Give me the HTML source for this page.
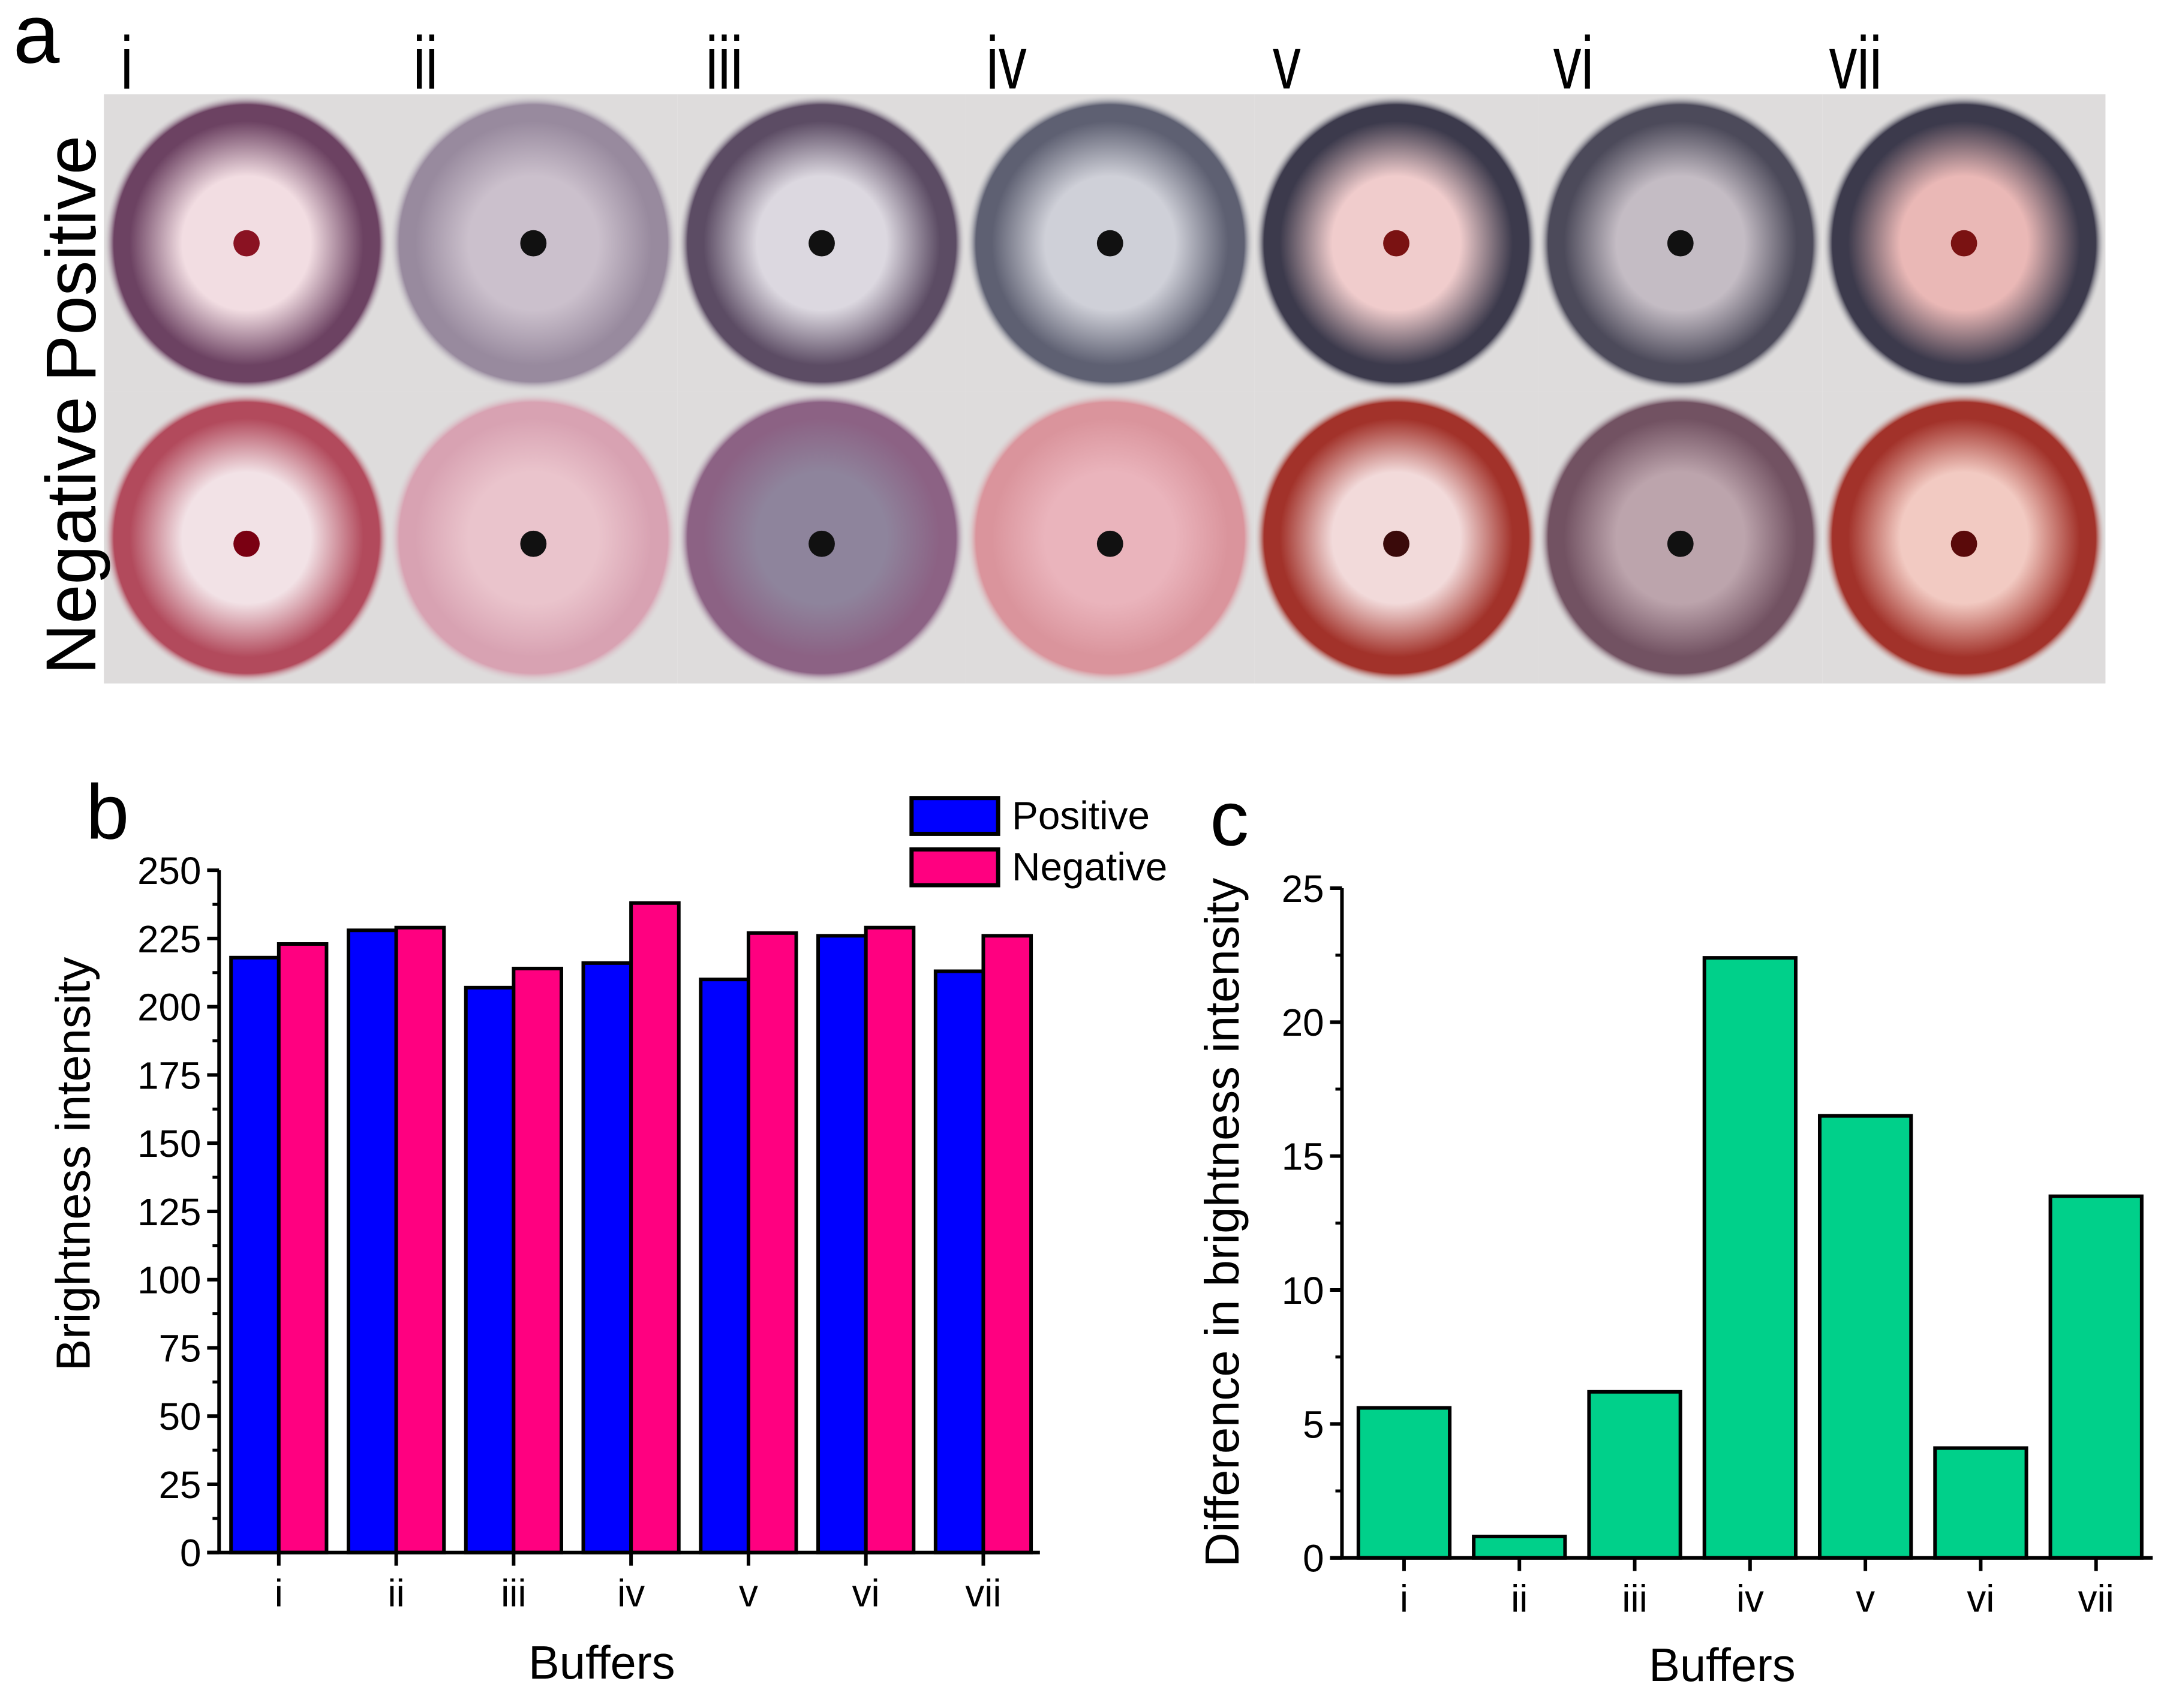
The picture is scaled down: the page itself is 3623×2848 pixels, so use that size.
<!DOCTYPE html>
<html><head><meta charset="utf-8">
<style>
html,body{margin:0;padding:0;background:#fff;}
svg{display:block;font-family:"Liberation Sans",sans-serif;}
</style></head>
<body>
<svg id="fig" width="3623" height="2848" viewBox="0 0 3623 2848" xmlns="http://www.w3.org/2000/svg">
<defs id="defs"></defs>
<g transform="scale(0.9953)">
<g id="panelA"></g>
<g id="chartB"></g>
<g id="chartC"></g>
</g>
</svg>
<script>
const NS="http://www.w3.org/2000/svg";
// ---- chart data ----
const categories=["i","ii","iii","iv","v","vi","vii"];
const positiveValues=[218,228,207,216,210,226,213];
const negativeValues=[223,229,214,238,227,229,226];
const bTicks=[0,25,50,75,100,125,150,175,200,225,250];
const differenceValues=[5.6,0.8,6.2,22.4,16.5,4.1,13.5];
const cTicks=[0,5,10,15,20,25];

function el(tag,attrs,parent,text){const e=document.createElementNS(NS,tag);for(const k in attrs)e.setAttribute(k,attrs[k]);if(text!==undefined)e.textContent=text;if(parent)parent.appendChild(e);return e;}

// ---- panel a ----
const A=document.getElementById('panelA');
const defs=document.getElementById('defs');
const colX=[174,652,1135,1618,2101,2577,3053,3527];
const rowY=[158,657,1145];
const tileStyles=[
 [["#f2dde2","#6c4262","#8a1222"],["#cbc0cc","#988a9e","#111"],["#dcd8e0","#5c4c64","#111"],["#cfd0d8","#5e6072","#111"],["#f0cccc","#3c3a4c","#7a1212"],["#c4bcc4","#4c4a5a","#111"],["#eab8b6","#3c3a4c","#7a1212"]],
 [["#f2e2e6","#b24a5c","#7a0012"],["#eac4cc","#d8a2b2","#111"],["#8e849c","#8c6284","#111"],["#eab4bc","#da949c","#111"],["#f2dada","#a2322a","#3a0a0a"],["#bca4ac","#725262","#111"],["#f2cac2","#a2322a","#5a0a0a"]]
];
const labelsA=["i","ii","iii","iv","v","vi","vii"];
for(let r=0;r<2;r++){for(let c=0;c<7;c++){
  const s=tileStyles[r][c];const id='g'+r+'_'+c;
  const g=el('radialGradient',{id:id,cx:'50%',cy:'50%',r:'50%'},defs);
  el('stop',{offset:'0',"stop-color":s[0]},g);
  el('stop',{offset:'0.45',"stop-color":s[0]},g);
  el('stop',{offset:'0.82',"stop-color":s[1]},g);
  el('stop',{offset:'0.93',"stop-color":s[1]},g);
  el('stop',{offset:'1',"stop-color":"#dcdcdc","stop-opacity":"0"},g);
  const x=colX[c],w=colX[c+1]-colX[c],y=rowY[r],h=rowY[r+1]-rowY[r];
  const t=el('g',{},A);
  
  
  el('rect',{x:x,y:y,width:w,height:h,fill:'#dedcdc'},t);
  el('ellipse',{cx:x+w/2,cy:y+h/2,rx:w*0.5,ry:h*0.5,fill:'url(#'+id+')'},t);
  el('circle',{cx:x+w/2,cy:y+h/2+(r?10:0),r:22,fill:s[2]},t);
}}
el('text',{x:22,y:105,"font-size":140,fill:'#000'},A,'a');
const numX=[202,692,1182,1652,2132,2602,3064];
labelsA.forEach((l,i)=>{const t=el('text',{x:0,y:0,"font-size":125,fill:'#000',transform:`translate(${numX[i]},148) scale(0.75,1)`},A,l);});
const tp=el('text',{transform:'translate(160,640) rotate(-90)',"font-size":118,fill:'#000'},A,'Positive');
const tn=el('text',{transform:'translate(160,1130) rotate(-90)',"font-size":118,fill:'#000'},A,'Negative');

// ---- chart b ----
const B=document.getElementById('chartB');
const bx0=367,bx1=1742,by0=2601,by1=1458,bMax=250;
const bY=v=>by0-(v/bMax)*(by0-by1);
const bStep=196.7,bC0=467;
const bX=i=>bC0+i*bStep;
const bw=80;
categories.forEach((c,i)=>{
  const p=el('rect',{x:bX(i)-bw,y:bY(positiveValues[i]),width:bw,height:by0-bY(positiveValues[i]),fill:'#0000ff',stroke:'#000',"stroke-width":6},B);
  
  
  const n=el('rect',{x:bX(i),y:bY(negativeValues[i]),width:bw,height:by0-bY(negativeValues[i]),fill:'#ff0080',stroke:'#000',"stroke-width":6},B);
  
  
  el('line',{x1:bX(i),x2:bX(i),y1:by0,y2:by0+22,stroke:'#000',"stroke-width":6},B);
  const t=el('text',{x:bX(i),y:by0+90,"font-size":64,"text-anchor":"middle",fill:'#000'},B,c);
  
  
});
el('line',{x1:bx0,x2:bx0,y1:by0,y2:by1,stroke:'#000',"stroke-width":6},B);
el('line',{x1:bx0-20,x2:bx1,y1:by0,y2:by0,stroke:'#000',"stroke-width":6},B);
bTicks.forEach(v=>{
  el('line',{x1:bx0-20,x2:bx0,y1:bY(v),y2:bY(v),stroke:'#000',"stroke-width":6},B);
  if(v<bMax)el('line',{x1:bx0-11,x2:bx0,y1:bY(v+12.5),y2:bY(v+12.5),stroke:'#000',"stroke-width":5},B);
  const t=el('text',{x:bx0-30,y:bY(v)+23,"font-size":64,"text-anchor":"end",fill:'#000'},B,String(v));
  
  
});
el('text',{x:1008,y:2812,"font-size":78,"text-anchor":"middle",fill:'#000'},B,'Buffers');
el('text',{transform:'translate(150,1950) rotate(-90)',"font-size":80,"text-anchor":"middle",fill:'#000'},B,'Brightness intensity');
el('text',{x:144,y:1405,"font-size":130,fill:'#000'},B,'b');
const lg=el('g',{},B);
el('rect',{x:1527,y:1337,width:145,height:60,fill:'#0000ff',stroke:'#000',"stroke-width":7},lg);
el('rect',{x:1527,y:1423,width:145,height:60,fill:'#ff0080',stroke:'#000',"stroke-width":7},lg);
el('text',{x:1695,y:1389,"font-size":66,fill:'#000'},lg,'Positive');
el('text',{x:1695,y:1475,"font-size":66,fill:'#000'},lg,'Negative');

// ---- chart c ----
const C=document.getElementById('chartC');
const cx0=2248,cx1=3606,cy0=2610,cy1=1488,cMax=25;
const cY=v=>cy0-(v/cMax)*(cy0-cy1);
const cC0=2352,cStep=193.2,cw=153;
const cX=i=>cC0+i*cStep;
categories.forEach((c,i)=>{
  const r=el('rect',{x:cX(i)-cw/2,y:cY(differenceValues[i]),width:cw,height:cy0-cY(differenceValues[i]),fill:'#00d08a',stroke:'#000',"stroke-width":6},C);
  
  
  el('line',{x1:cX(i),x2:cX(i),y1:cy0,y2:cy0+22,stroke:'#000',"stroke-width":6},C);
  const t=el('text',{x:cX(i),y:cy0+90,"font-size":64,"text-anchor":"middle",fill:'#000'},C,c);
  
  
});
el('line',{x1:cx0,x2:cx0,y1:cy0,y2:cy1,stroke:'#000',"stroke-width":6},C);
el('line',{x1:cx0-20,x2:cx1,y1:cy0,y2:cy0,stroke:'#000',"stroke-width":6},C);
cTicks.forEach(v=>{
  el('line',{x1:cx0-20,x2:cx0,y1:cY(v),y2:cY(v),stroke:'#000',"stroke-width":6},C);
  if(v<cMax)el('line',{x1:cx0-11,x2:cx0,y1:cY(v+2.5),y2:cY(v+2.5),stroke:'#000',"stroke-width":5},C);
  const t=el('text',{x:cx0-30,y:cY(v)+23,"font-size":64,"text-anchor":"end",fill:'#000'},C,String(v));
  
  
});
el('text',{x:2885,y:2816,"font-size":78,"text-anchor":"middle",fill:'#000'},C,'Buffers');
el('text',{transform:'translate(2075,2048) rotate(-90)',"font-size":80,"text-anchor":"middle",fill:'#000'},C,'Difference in brightness intensity');
el('text',{x:2027,y:1416,"font-size":130,fill:'#000'},C,'c');
</script>
</body></html>
